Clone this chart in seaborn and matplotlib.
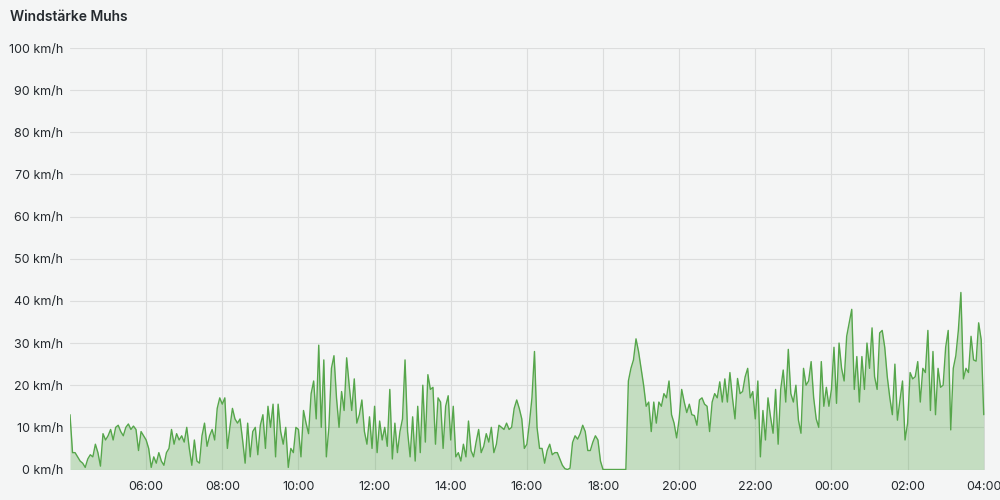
import numpy as np
import pandas as pd
import matplotlib
matplotlib.use("Agg")
from matplotlib import pyplot as plt
import matplotlib.dates as mdates
import seaborn as sns

# wind speed in km/h, one reading every 4 minutes, 04:00 -> 04:00
start = "2024-01-01 04:00"
step = "4min"

wind_04_10 = [
    13, 4, 4, 3, 2, 1.5, 0.5, 2.5, 3.5, 3, 6, 4, 0.8, 8.5, 7,
    8, 9.5, 7, 10, 10.5, 9, 8, 10, 10.8, 9.5, 10.3, 9.5, 4.5, 9, 8,
    7, 5, 0.5, 3, 1.5, 4, 2, 1, 4, 5, 9.5, 6, 8.5, 7, 8,
    6.5, 10, 5, 1, 7, 2, 1.5, 8, 11, 5.5, 8, 9.5, 7, 14.5, 17,
    15.5, 17, 5, 10, 14.5, 12, 11, 12, 7, 1.5, 11, 3, 9, 10, 3.5,
    10.5, 13, 5, 15, 10, 15.5, 3, 15.5, 9, 6, 10, 0.5, 5, 4, 10,
]
wind_10_16 = [
    9.5, 3, 14, 11, 8.5, 18, 21, 12, 29.5, 10, 26, 3, 10, 24, 27,
    17, 10, 18.5, 14, 26.5, 20, 14, 21.5, 11, 13, 16.5, 9, 6, 12.5, 5,
    15, 4, 11.5, 7, 10, 5.5, 19, 2.5, 11, 4, 9, 12, 26, 9, 3,
    12.5, 2, 15, 4, 20, 6.5, 22.5, 19, 19.5, 6, 17, 16, 5, 15, 17.5,
    7, 15, 3, 4, 2, 6, 3, 11.5, 4.5, 3, 6.5, 9.5, 4, 5.5, 8.5,
    6.5, 10, 4, 6, 10.5, 10, 9.5, 11, 9.5, 10, 14.5, 16.5, 14.5, 12, 5,
]
wind_16_22 = [
    6, 11, 17, 28, 10, 5, 5, 1.5, 4.5, 6, 3.5, 4, 4, 2.5, 1,
    0.2, 0, 0.3, 6.4, 8, 7.2, 8.5, 10.5, 9, 4.5, 4.5, 6.5, 8, 7, 2,
    0, 0, 0, 0, 0, 0, 0, 0, 0, 0, 21, 24, 26, 31, 28,
    24, 20, 15, 16, 9, 16, 11, 16, 15, 18, 17, 21, 13, 11, 7.5,
    12, 19, 16, 13.5, 15.5, 13, 12.8, 10.5, 16.5, 17, 15.5, 15, 9, 16, 18,
    17, 20.8, 16, 21.5, 16, 23, 17, 12, 21.6, 18, 18.5, 22, 24, 17, 18.5,
]
wind_22_04 = [
    12, 21, 3, 14, 7, 17, 12.5, 8.6, 19, 6, 19, 23.6, 16, 28.5, 18,
    16, 20, 11.7, 8.6, 24, 20, 21, 25.6, 17, 12, 10, 25.6, 15, 19.5, 15,
    19, 29, 15.7, 30, 24, 21, 31.6, 34.8, 38, 19, 26.8, 16, 26.8, 19, 30,
    24, 33.6, 22, 19, 32.4, 33, 29, 22, 17, 13, 25, 11.7, 16.5, 21, 7,
    11, 23, 21.5, 22, 25.6, 16, 24, 23, 33, 14, 28, 13, 24, 19.5, 20,
    29, 33, 9.4, 24, 27, 33, 42, 21.5, 24, 23, 31.6, 26, 25.7, 34.8, 30.8,
]
wind_last = [13]

wind = wind_04_10 + wind_10_16 + wind_16_22 + wind_22_04 + wind_last
times = pd.date_range(start, periods=len(wind), freq=step)
df = pd.DataFrame({"time": times, "wind": wind})

y_ticks = list(range(0, 101, 10))
x_ticks = pd.date_range("2024-01-01 06:00", "2024-01-02 04:00", freq="2h")

bg = "#f4f5f5"
green = "#56a64b"
text_col = "#24292e"

sns.set_theme(style="whitegrid")
plt.rcParams['font.family'] = ['Inter', 'DejaVu Sans']

fig = plt.figure(figsize=(10, 5), dpi=100, facecolor=bg)
ax = fig.add_axes([0.07, 0.061, 0.915, 0.843])
ax.set_facecolor(bg)

ax.fill_between(df["time"], df["wind"], color=green, alpha=0.3, lw=0)
sns.lineplot(data=df, x="time", y="wind", ax=ax, color=green, lw=1)

ax.set_xlim(times[0], times[-1] + pd.Timedelta(minutes=2))
ax.set_ylim(0, 100)
ax.set_yticks(y_ticks)
ax.set_yticklabels([f"{v} km/h" for v in y_ticks])
ax.set_xticks(x_ticks)
ax.xaxis.set_major_formatter(mdates.DateFormatter("%H:%M"))
ax.set_xlabel("")
ax.set_ylabel("")

for s in ax.spines.values():
    s.set_visible(False)
ax.grid(color="#dcdddd", lw=0.8)
ax.tick_params(axis="both", length=0, labelsize=9, colors=text_col)
ax.tick_params(axis="y", pad=5)
ax.tick_params(axis="x", pad=8)

fig.text(0.01, 0.966, "Windstärke Muhs", fontsize=10, weight="semibold",
         color=text_col, va="center")

fig.savefig("out.png", dpi=100, facecolor=bg)
